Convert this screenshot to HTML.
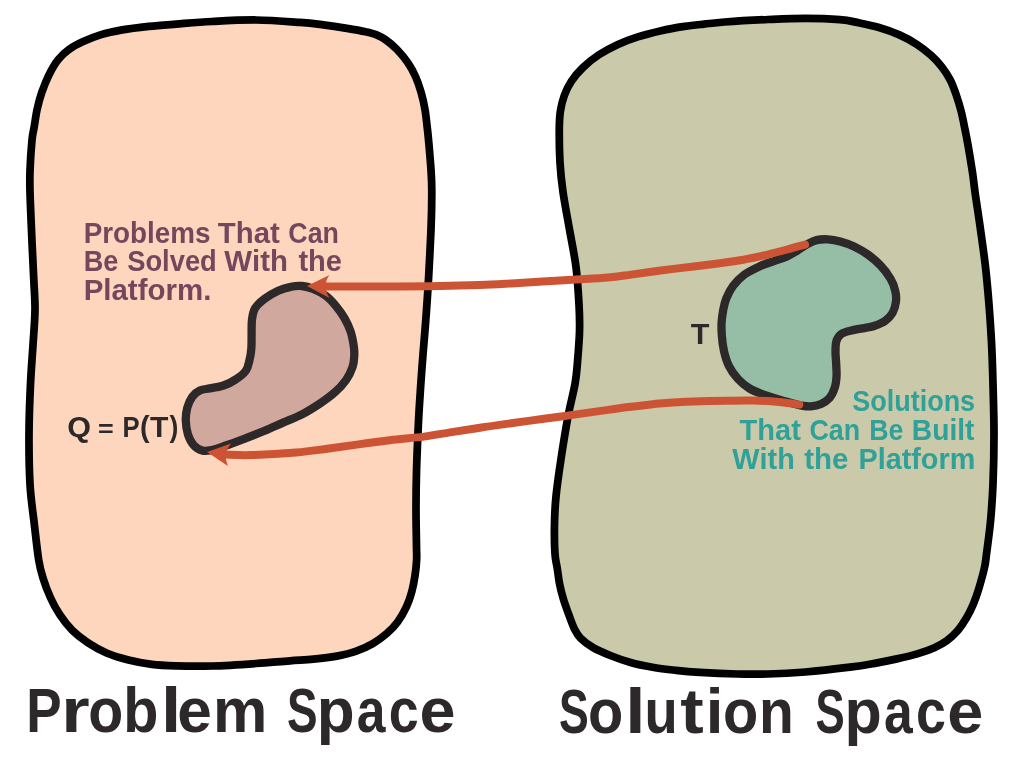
<!DOCTYPE html>
<html><head><meta charset="utf-8"><title>Problem Space / Solution Space</title>
<style>
html,body{margin:0;padding:0;background:#fff;width:1024px;height:768px;overflow:hidden}
svg{display:block;will-change:transform;opacity:0.999}
text{font-family:"Liberation Sans",sans-serif;font-weight:bold;font-kerning:none}
</style></head><body>
<svg width="1024" height="768" viewBox="0 0 1024 768">
<path d="M30.0 192.0 C29.7 180.2 29.7 179.7 30.0 171.0 C30.3 162.3 31.3 147.2 32.0 140.0 C32.7 132.8 33.1 133.1 34.0 128.0 C34.9 122.9 35.8 115.4 37.1 109.5 C38.4 103.6 39.8 98.1 41.8 92.4 C43.8 86.7 46.1 80.7 48.8 75.2 C51.5 69.7 54.8 63.9 58.2 59.6 C61.6 55.3 64.9 52.4 69.1 49.4 C73.3 46.4 78.0 44.0 83.2 41.6 C88.4 39.2 93.9 36.9 100.4 34.9 C106.9 32.9 114.2 31.3 122.2 29.9 C130.3 28.5 139.8 27.4 148.8 26.4 C157.8 25.4 165.5 24.9 176.0 24.1 C186.5 23.3 198.7 22.2 212.0 21.5 C225.3 20.8 241.3 19.9 256.0 20.0 C270.7 20.1 288.8 21.6 300.0 22.4 C311.2 23.2 315.6 23.9 323.4 24.9 C331.2 25.9 339.9 27.2 346.9 28.3 C353.9 29.4 360.7 30.6 365.6 31.8 C370.6 32.9 373.2 33.5 376.6 34.9 C380.0 36.3 382.5 37.6 385.9 40.0 C389.3 42.4 393.2 45.6 396.9 49.4 C400.5 53.2 404.7 58.1 407.8 62.7 C410.9 67.3 413.4 71.8 415.6 76.8 C417.8 81.7 419.5 86.9 421.1 92.4 C422.7 97.9 424.0 103.7 425.0 109.6 C426.0 115.5 426.6 122.1 427.3 128.0 C428.0 133.9 428.4 138.0 429.0 145.0 C429.6 152.0 430.5 162.2 431.0 170.0 C431.5 177.8 431.8 182.1 431.8 192.0 C431.8 201.9 431.6 214.9 431.0 229.5 C430.4 244.1 429.3 264.9 428.5 279.5 C427.7 294.1 426.9 304.5 426.0 317.0 C425.1 329.5 423.9 343.3 423.0 354.5 C422.1 365.7 421.6 372.8 420.8 384.0 C420.1 395.2 419.2 406.9 418.5 421.5 C417.8 436.1 416.9 456.9 416.5 471.5 C416.1 486.1 416.0 496.5 416.0 509.0 C416.0 521.5 416.4 538.0 416.5 546.5 C416.6 555.0 416.9 555.1 416.6 560.0 C416.4 564.9 415.8 570.4 415.0 575.6 C414.2 580.8 413.3 586.0 411.9 591.2 C410.5 596.5 408.8 601.8 406.4 606.9 C404.0 612.0 401.1 617.3 397.8 621.7 C394.6 626.1 391.1 629.8 386.9 633.4 C382.7 637.0 378.0 640.6 372.8 643.6 C367.6 646.6 361.6 649.3 355.6 651.4 C349.6 653.5 343.9 654.8 336.9 656.1 C329.9 657.4 321.2 658.4 313.4 659.2 C305.6 660.0 299.6 660.1 290.0 660.8 C280.4 661.5 268.9 662.6 256.0 663.5 C243.1 664.4 225.8 665.6 212.5 666.0 C199.2 666.4 186.1 666.2 176.0 665.9 C165.9 665.6 159.8 665.4 151.9 664.4 C144.0 663.4 136.1 661.9 128.5 660.0 C121.0 658.1 113.4 655.9 106.6 653.0 C99.8 650.1 93.6 646.6 87.9 642.8 C82.2 639.0 76.9 635.0 72.2 630.3 C67.6 625.6 63.4 620.2 59.8 614.7 C56.1 609.2 53.1 603.5 50.4 597.5 C47.7 591.5 45.2 585.0 43.3 578.8 C41.3 572.5 40.2 569.5 38.7 560.0 C37.2 550.5 35.5 534.2 34.0 521.5 C32.5 508.8 30.8 498.6 30.0 484.0 C29.2 469.4 28.9 450.7 29.0 434.0 C29.1 417.3 29.8 398.8 30.5 384.0 C31.2 369.2 32.2 357.4 33.0 345.0 C33.8 332.6 34.9 320.3 35.0 309.5 C35.1 298.7 34.3 291.2 33.8 280.0 C33.3 268.8 32.6 256.7 32.0 242.0 C31.4 227.3 30.3 203.8 30.0 192.0Z" fill="#fed6bd" stroke="#000" stroke-width="7.75" stroke-linejoin="round"/>
<path d="M563.0 192.0 C561.4 180.8 560.6 173.2 560.0 162.5 C559.4 151.8 559.2 136.6 559.3 128.0 C559.4 119.4 559.6 116.5 560.4 111.1 C561.2 105.7 562.5 100.5 564.3 95.5 C566.1 90.5 568.2 86.1 571.3 81.4 C574.4 76.7 578.5 71.8 583.1 67.4 C587.7 63.0 593.0 58.7 598.7 54.9 C604.4 51.1 610.9 47.7 617.4 44.7 C623.9 41.7 630.5 39.2 637.8 36.9 C645.0 34.6 653.4 32.5 661.2 30.7 C669.0 28.9 677.5 27.5 684.6 26.4 C691.7 25.3 697.4 24.8 704.0 24.1 C710.6 23.4 713.8 22.8 724.5 22.0 C735.2 21.2 754.5 20.1 768.0 19.5 C781.5 18.9 793.5 18.3 805.5 18.3 C817.5 18.3 831.1 18.9 840.0 19.7 C848.9 20.4 852.2 21.5 858.8 22.8 C865.2 24.1 872.2 25.5 879.0 27.5 C885.8 29.5 893.1 32.1 899.4 34.9 C905.7 37.7 911.4 40.9 916.6 44.2 C921.8 47.6 926.4 51.2 930.6 54.9 C934.8 58.6 938.3 62.4 941.6 66.6 C944.9 70.8 947.7 75.1 950.2 79.9 C952.7 84.7 954.6 90.3 956.4 95.5 C958.2 100.7 959.7 105.7 961.1 111.1 C962.5 116.5 963.6 122.3 964.7 128.0 C965.9 133.7 966.7 137.6 968.0 145.0 C969.3 152.4 971.3 164.7 972.5 172.5 C973.7 180.3 973.7 182.5 975.0 192.0 C976.3 201.5 978.8 217.0 980.5 229.5 C982.2 242.0 984.1 254.5 985.5 267.0 C986.9 279.5 988.0 292.0 989.0 304.5 C990.0 317.0 990.8 328.8 991.5 342.0 C992.2 355.2 992.6 368.7 993.0 384.0 C993.4 399.3 994.0 417.3 994.0 434.0 C994.0 450.7 993.6 469.4 993.0 484.0 C992.4 498.6 991.6 509.8 990.5 521.5 C989.4 533.2 987.5 546.2 986.5 554.0 C985.5 561.8 985.7 562.3 984.4 568.0 C983.1 573.7 980.7 582.3 978.9 588.3 C977.1 594.3 975.5 598.9 973.4 603.9 C971.3 608.9 969.0 613.6 966.4 618.0 C963.8 622.4 961.0 626.7 957.8 630.5 C954.5 634.3 950.8 637.8 946.9 640.7 C943.0 643.6 939.3 645.5 934.4 647.7 C929.5 649.9 923.5 652.0 917.2 653.9 C911.0 655.8 904.2 657.3 896.9 658.9 C889.6 660.5 881.2 662.2 873.4 663.6 C865.6 665.0 861.3 665.8 850.0 667.2 C838.7 668.6 819.2 670.9 805.5 672.0 C791.8 673.1 779.4 673.7 768.0 674.0 C756.6 674.3 748.3 674.3 737.0 674.0 C725.7 673.7 710.2 673.0 700.0 672.4 C689.8 671.8 683.8 671.2 675.9 670.3 C668.0 669.4 660.0 668.5 652.5 667.2 C645.0 665.9 637.6 664.5 630.6 662.5 C623.6 660.5 616.5 658.0 610.3 655.5 C604.0 653.0 598.0 650.6 593.1 647.7 C588.2 644.8 583.7 641.4 580.6 638.3 C577.5 635.2 576.4 632.8 574.4 628.9 C572.4 625.0 570.7 619.8 568.9 614.9 C567.1 610.0 565.0 604.5 563.4 599.2 C561.8 594.0 560.5 588.8 559.5 583.6 C558.5 578.4 558.0 572.9 557.2 568.0 C556.5 563.1 555.5 561.3 555.0 554.0 C554.5 546.7 554.3 533.6 554.5 524.0 C554.7 514.4 554.9 507.3 556.0 496.5 C557.1 485.7 559.0 472.3 561.0 459.0 C563.0 445.7 565.7 429.0 568.0 416.5 C570.3 404.0 573.4 393.1 575.0 384.0 C576.6 374.9 576.8 370.7 577.5 362.0 C578.2 353.3 579.2 341.6 579.5 332.0 C579.8 322.4 579.6 315.3 579.0 304.5 C578.4 293.7 577.6 279.5 576.0 267.0 C574.4 254.5 571.7 242.0 569.5 229.5 C567.3 217.0 564.6 203.2 563.0 192.0Z" fill="#cacaaa" stroke="#000" stroke-width="7.75" stroke-linejoin="round"/>
<path d="M290.8 286.8 C294.7 286.0 298.2 285.6 302.0 286.0 C305.8 286.4 309.3 287.3 313.2 288.9 C317.2 290.5 322.0 292.9 325.8 295.8 C329.5 298.6 332.6 302.0 335.8 305.8 C338.9 309.5 342.0 313.9 344.5 318.2 C347.0 322.6 349.2 327.2 350.8 332.0 C352.3 336.8 353.3 342.8 353.9 347.0 C354.5 351.2 354.4 353.6 354.2 357.0 C354.0 360.4 353.8 363.5 352.5 367.2 C351.2 371.0 349.2 375.6 346.2 379.8 C343.3 383.9 339.4 388.3 335.0 392.2 C330.6 396.2 325.4 399.9 320.0 403.5 C314.6 407.1 308.7 410.9 302.5 414.1 C296.3 417.3 289.4 419.8 283.0 422.6 C276.6 425.4 270.4 428.3 264.0 431.0 C257.6 433.7 251.1 436.2 244.8 438.6 C238.4 441.0 231.5 443.6 226.0 445.5 C220.5 447.4 216.0 449.2 212.0 450.0 C208.0 450.8 205.3 451.4 202.2 450.5 C199.2 449.6 195.9 447.6 193.5 444.9 C191.1 442.2 189.2 438.3 187.9 434.2 C186.6 430.2 185.9 424.9 185.8 420.5 C185.6 416.1 186.2 412.0 187.2 408.0 C188.3 404.0 190.2 399.7 192.2 396.8 C194.3 393.8 196.8 391.9 199.8 390.5 C202.7 389.1 205.8 389.2 209.8 388.4 C213.7 387.6 219.1 387.0 223.5 385.5 C227.9 384.0 232.2 381.8 236.0 379.2 C239.8 376.8 243.8 373.7 246.0 370.5 C248.2 367.3 248.6 363.6 249.5 360.0 C250.4 356.4 251.0 353.3 251.3 349.0 C251.7 344.7 251.5 338.9 251.6 334.0 C251.7 329.1 251.4 323.8 252.0 319.5 C252.6 315.2 253.0 311.7 255.1 308.2 C257.2 304.8 260.6 301.8 264.5 298.9 C268.4 296.0 273.9 292.8 278.2 290.8 C282.6 288.7 286.8 287.5 290.8 286.8Z" fill="#d1a89d" stroke="#2d2829" stroke-width="8.3" stroke-linejoin="round"/>
<path d="M807.6 244.0 C810.9 242.2 813.1 240.9 816.5 240.1 C819.9 239.3 823.8 239.1 827.8 239.3 C831.7 239.5 835.9 240.2 840.2 241.4 C844.6 242.6 849.4 244.2 854.0 246.4 C858.6 248.6 863.4 251.4 867.8 254.5 C872.1 257.6 876.5 261.1 880.2 265.1 C884.0 269.1 887.8 274.0 890.2 278.2 C892.8 282.5 894.3 286.8 895.2 290.8 C896.2 294.7 896.4 298.3 895.9 302.0 C895.4 305.7 894.3 309.9 892.5 313.0 C890.7 316.1 888.3 318.6 885.2 320.8 C882.2 322.9 877.1 324.9 874.0 326.0 C870.9 327.1 870.2 326.9 866.5 327.6 C862.8 328.4 855.7 329.4 851.5 330.5 C847.3 331.6 844.0 332.2 841.5 333.9 C839.0 335.6 837.5 337.7 836.5 340.8 C835.5 343.8 835.5 348.0 835.5 352.0 C835.5 356.0 836.1 360.3 836.2 364.5 C836.4 368.7 836.8 373.0 836.5 377.0 C836.2 381.0 835.8 384.8 834.6 388.2 C833.4 391.8 831.8 395.4 829.5 398.0 C827.2 400.6 824.1 402.6 821.0 404.0 C817.9 405.4 814.2 406.1 811.0 406.4 C807.8 406.7 804.8 406.2 801.5 405.6 C798.2 405.1 795.7 404.2 791.5 403.1 C787.3 402.0 781.3 400.2 776.5 398.8 C771.7 397.3 767.3 396.2 762.8 394.4 C758.2 392.6 753.2 390.7 749.0 388.1 C744.8 385.5 741.1 382.4 737.8 378.8 C734.4 375.1 731.3 370.8 729.0 366.2 C726.7 361.7 725.2 356.5 724.0 351.2 C722.8 346.0 722.1 339.9 721.8 335.0 C721.4 330.1 721.4 326.2 721.6 322.0 C721.9 317.8 722.5 314.0 723.2 310.0 C724.0 306.0 724.7 302.3 726.4 298.2 C728.1 294.2 730.2 289.7 733.2 285.8 C736.3 281.8 740.1 277.7 744.5 274.5 C748.9 271.3 754.5 268.7 759.5 266.4 C764.5 264.1 769.9 262.4 774.5 260.8 C779.1 259.1 783.2 258.1 787.0 256.4 C790.8 254.7 793.6 252.8 797.0 250.8 C800.4 248.7 804.4 245.8 807.6 244.0Z" fill="#96bea6" stroke="#2d2829" stroke-width="8.3" stroke-linejoin="round"/>
<path d="M805.0 244.6 C802.0 245.4 794.2 247.6 787.0 249.5 C779.8 251.4 770.3 253.9 762.0 255.8 C753.7 257.6 745.3 259.4 737.0 260.8 C728.7 262.2 719.2 263.4 712.0 264.3 C704.8 265.2 702.0 265.5 693.8 266.5 C685.5 267.5 672.9 268.9 662.5 270.2 C652.1 271.6 640.3 273.4 631.2 274.6 C622.2 275.8 617.2 276.7 608.0 277.5 C598.8 278.3 587.2 278.9 576.2 279.6 C565.3 280.3 553.3 281.0 542.5 281.6 C531.7 282.2 521.7 282.8 511.2 283.4 C500.8 284.0 491.9 284.6 480.0 285.0 C468.1 285.4 453.3 285.8 440.0 286.0 C426.7 286.2 419.0 286.3 400.0 286.4 C381.0 286.5 338.3 286.4 326.0 286.4" fill="none" stroke="#cc5434" stroke-width="8" stroke-linecap="round"/>
<path d="M799.3 404.6 C795.9 404.2 786.5 402.6 779.0 401.9 C771.5 401.2 762.5 400.8 754.0 400.6 C745.5 400.4 738.0 400.6 728.0 400.8 C718.0 400.9 704.7 401.1 693.8 401.5 C682.8 401.9 672.9 402.4 662.5 403.2 C652.1 404.1 640.3 405.6 631.2 406.8 C622.2 407.9 617.2 408.6 608.0 409.9 C598.8 411.2 586.7 412.9 576.0 414.4 C565.3 415.9 554.8 417.3 544.0 418.8 C533.2 420.3 521.7 421.8 511.0 423.3 C500.3 424.8 490.2 426.2 480.0 427.8 C469.8 429.3 459.3 430.9 450.0 432.4 C440.7 433.9 434.0 435.3 424.0 436.6 C414.0 437.9 400.7 438.9 389.8 440.2 C378.8 441.6 368.9 443.0 358.5 444.4 C348.1 445.8 337.7 447.4 327.2 448.8 C316.8 450.1 308.7 451.4 296.0 452.5 C283.3 453.6 262.7 454.8 251.0 455.1 C239.3 455.5 230.2 454.7 226.0 454.6" fill="none" stroke="#cc5434" stroke-width="8" stroke-linecap="round"/>
<path d="M307 286.1 L329.5 274.9 Q326 279 325.5 286.3 Q326 293 329.5 298 Z" fill="#cc5434"/>
<path d="M207 451.9 L231 443.4 Q226.5 449 225.5 454.5 Q225.5 460 227.9 466 Z" fill="#cc5434"/>
<text transform="translate(83.74 242.50) scale(0.9595 1.0000)" font-size="29.0" fill="#74475d">Problems</text>
<text transform="translate(217.77 242.50) scale(1.0126 1.0000)" font-size="29.0" fill="#74475d">That</text>
<text transform="translate(288.30 242.50) scale(0.9238 1.0000)" font-size="29.0" fill="#74475d">Can</text>
<text transform="translate(83.79 271.40) scale(0.9344 1.0000)" font-size="29.0" fill="#74475d">Be</text>
<text transform="translate(127.21 271.40) scale(0.9422 1.0000)" font-size="29.0" fill="#74475d">Solved</text>
<text transform="translate(224.37 271.40) scale(1.0144 1.0000)" font-size="29.0" fill="#74475d">With</text>
<text transform="translate(298.40 271.40) scale(1.0023 1.0000)" font-size="29.0" fill="#74475d">the</text>
<text transform="translate(83.63 300.40) scale(1.0168 1.0000)" font-size="29.0" fill="#74475d">Platform.</text>
<text transform="translate(852.22 411.00) scale(0.9310 1.0000)" font-size="29.0" fill="#2fa198">Solutions</text>
<text transform="translate(739.57 440.00) scale(1.0011 1.0000)" font-size="29.0" fill="#2fa198">That</text>
<text transform="translate(809.40 440.00) scale(0.9267 1.0000)" font-size="29.0" fill="#2fa198">Can</text>
<text transform="translate(869.21 440.00) scale(0.9227 1.0000)" font-size="29.0" fill="#2fa198">Be</text>
<text transform="translate(911.87 440.00) scale(0.9713 1.0000)" font-size="29.0" fill="#2fa198">Built</text>
<text transform="translate(732.37 469.00) scale(0.9939 1.0000)" font-size="29.0" fill="#2fa198">With</text>
<text transform="translate(804.14 469.00) scale(1.0177 1.0000)" font-size="29.0" fill="#2fa198">the</text>
<text transform="translate(858.47 469.00) scale(0.9931 1.0000)" font-size="29.0" fill="#2fa198">Platform</text>
<text transform="translate(67.15 436.75) scale(1.0521 1.0000)" font-size="29.0" fill="#2d2829">Q</text>
<text transform="translate(122.54 436.75) scale(0.8835 1.0000)" font-size="29.0" fill="#2d2829">P</text>
<text transform="translate(140.07 436.75) scale(0.9897 1.0000)" font-size="29.0" fill="#2d2829">(</text>
<text transform="translate(149.91 436.75) scale(1.0394 1.0000)" font-size="29.0" fill="#2d2829">T</text>
<text transform="translate(169.57 436.75) scale(0.9164 1.0000)" font-size="29.0" fill="#2d2829">)</text>
<text transform="translate(97.88 437.25) scale(0.9283 0.8500)" font-size="29.0" fill="#2d2829">=</text>
<text transform="translate(690.66 344.00) scale(1.0540 1.0000)" font-size="29.0" fill="#2d2829">T</text>
<text transform="translate(26.20 731.50) scale(0.8348 1.0000)" font-size="63.5" fill="#2d2829">P</text>
<text transform="translate(61.19 731.50) scale(1.1500 1.0000)" font-size="63.5" fill="#2d2829">r</text>
<text transform="translate(88.26 731.50) scale(0.9016 1.0000)" font-size="63.5" fill="#2d2829">o</text>
<text transform="translate(123.21 731.50) scale(0.9063 1.0000)" font-size="63.5" fill="#2d2829">b</text>
<text transform="translate(160.91 731.50) scale(1.1478 1.0000)" font-size="63.5" fill="#2d2829">l</text>
<text transform="translate(177.32 731.50) scale(0.9783 1.0000)" font-size="63.5" fill="#2d2829">e</text>
<text transform="translate(212.97 731.50) scale(0.9620 1.0000)" font-size="63.5" fill="#2d2829">m</text>
<text transform="translate(286.93 731.50) scale(0.7228 1.0000)" font-size="63.5" fill="#2d2829">S</text>
<text transform="translate(316.66 731.50) scale(0.9766 1.0000)" font-size="63.5" fill="#2d2829">p</text>
<text transform="translate(356.74 731.50) scale(0.8122 1.0000)" font-size="63.5" fill="#2d2829">a</text>
<text transform="translate(388.65 731.50) scale(0.8475 1.0000)" font-size="63.5" fill="#2d2829">c</text>
<text transform="translate(419.47 731.50) scale(1.0191 1.0000)" font-size="63.5" fill="#2d2829">e</text>
<text transform="translate(558.96 733.25) scale(0.7031 1.0000)" font-size="63.5" fill="#2d2829">S</text>
<text transform="translate(588.00 733.25) scale(0.9090 1.0000)" font-size="63.5" fill="#2d2829">o</text>
<text transform="translate(625.16 733.25) scale(1.1478 1.0000)" font-size="63.5" fill="#2d2829">l</text>
<text transform="translate(644.38 733.25) scale(0.8560 1.0000)" font-size="63.5" fill="#2d2829">u</text>
<text transform="translate(680.14 733.25) scale(1.1099 1.0000)" font-size="63.5" fill="#2d2829">t</text>
<text transform="translate(705.80 733.25) scale(1.0043 1.0000)" font-size="63.5" fill="#2d2829">i</text>
<text transform="translate(723.00 733.25) scale(0.9090 1.0000)" font-size="63.5" fill="#2d2829">o</text>
<text transform="translate(759.00 733.25) scale(0.8968 1.0000)" font-size="63.5" fill="#2d2829">n</text>
<text transform="translate(815.49 733.25) scale(0.6900 1.0000)" font-size="63.5" fill="#2d2829">S</text>
<text transform="translate(844.48 733.25) scale(0.9610 1.0000)" font-size="63.5" fill="#2d2829">p</text>
<text transform="translate(883.99 733.25) scale(0.8122 1.0000)" font-size="63.5" fill="#2d2829">a</text>
<text transform="translate(915.90 733.25) scale(0.8475 1.0000)" font-size="63.5" fill="#2d2829">c</text>
<text transform="translate(947.22 733.25) scale(1.0191 1.0000)" font-size="63.5" fill="#2d2829">e</text>
</svg>
</body></html>
